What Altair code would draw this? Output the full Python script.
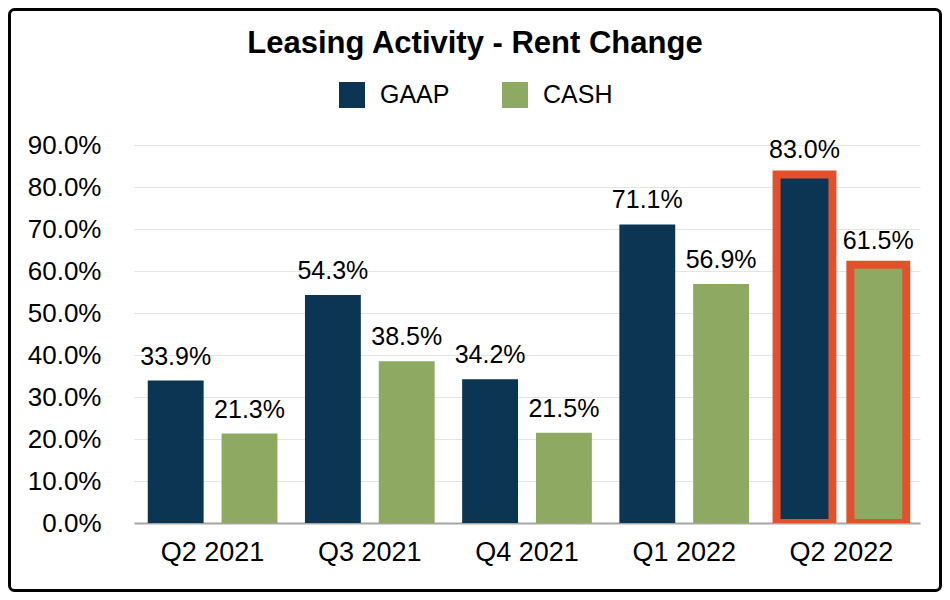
import altair as alt
import pandas as pd

FONT = "Liberation Sans"

quarters = ["Q2 2021", "Q3 2021", "Q4 2021", "Q1 2022", "Q2 2022"]
gaap = [0.339, 0.543, 0.342, 0.711, 0.830]
cash = [0.213, 0.385, 0.215, 0.569, 0.615]
series = ["GAAP", "CASH"]
colors = ["#0B3552", "#8EA962"]
highlight = "Q2 2022"
y_ticks = [0.0, 0.1, 0.2, 0.3, 0.4, 0.5, 0.6, 0.7, 0.8, 0.9]
title_text = "Leasing Activity - Rent Change"

rows = []
for q, g, c in zip(quarters, gaap, cash):
    rows.append({"quarter": q, "series": "GAAP", "value": g})
    rows.append({"quarter": q, "series": "CASH", "value": c})
df = pd.DataFrame(rows)

W, H = 786, 378
PAD = {"left": 126, "top": 137, "right": 22, "bottom": 69}

x = alt.X(
    "quarter:N", sort=quarters, title=None,
    scale=alt.Scale(paddingInner=0.175, paddingOuter=0.0875),
    axis=alt.Axis(labelAngle=0, labelFontSize=27, labelPadding=16, labelFont=FONT,
                  labelColor="black", domainColor="#A6A6A6", domainWidth=2,
                  ticks=False, tickSize=0, grid=False),
)
xo = alt.XOffset("series:N", sort=series,
                 scale=alt.Scale(domain=series, paddingInner=0.243, paddingOuter=0))
y = alt.Y(
    "value:Q", title=None,
    scale=alt.Scale(domain=[0, 0.9], nice=False),
    axis=alt.Axis(values=y_ticks, format=".1%", domain=False, ticks=False, tickSize=0,
                  labelPadding=33, labelFontSize=26, labelFont=FONT, labelColor="black",
                  grid=True, gridColor="#E4E4E4", gridWidth=1),
)

base = alt.Chart(df)

bars = base.mark_bar(stroke="#E2502C", clip=True).encode(
    x=x, xOffset=xo, y=y,
    fill=alt.Fill(
        "series:N", sort=series,
        scale=alt.Scale(domain=series, range=colors),
        legend=alt.Legend(title=None, orient="none", legendX=205, legendY=-63,
                          direction="horizontal", symbolType="square", symbolSize=676,
                          symbolStrokeWidth=0, labelFontSize=25, labelFont=FONT,
                          labelColor="black", labelOffset=15, columnPadding=52, padding=0),
    ),
    strokeWidth=alt.condition(alt.datum.quarter == highlight, alt.value(8), alt.value(0)),
)

labels = base.mark_text(fontSize=25, font=FONT, color="black", baseline="alphabetic", dy=-16).encode(
    x=x, xOffset=xo, y=y,
    text=alt.Text("value:Q", format=".1%"),
)

border = alt.Chart(pd.DataFrame({"b": [0]})).mark_rect(
    fillOpacity=0, stroke="black", strokeWidth=3, cornerRadius=5, clip=False
).encode(
    x=alt.value(-PAD["left"] + 1.5), x2=alt.value(W + PAD["right"] - 1.5),
    y=alt.value(-PAD["top"] + 1.5), y2=alt.value(H + PAD["bottom"] - 1.5),
)

chart = alt.layer(bars, labels, border).properties(
    width=W, height=H,
    padding=PAD,
    autosize=alt.AutoSizeParams(type="none"),
    background="white",
    title=alt.TitleParams(title_text, fontSize=31, fontWeight="bold", font=FONT,
                          color="black", anchor="middle", frame="bounds",
                          baseline="alphabetic", offset=-76),
).configure_view(stroke=None)

chart.save("out.html", embed_options={"renderer": "svg", "actions": False})
